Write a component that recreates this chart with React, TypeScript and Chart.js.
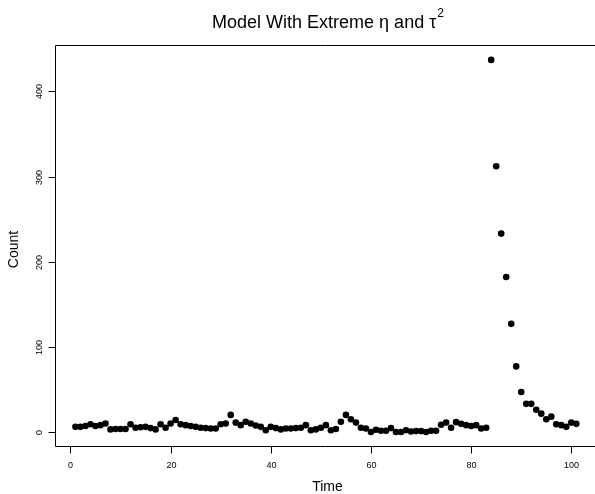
import React, { useEffect, useRef } from "react";
import { Chart, registerables } from "chart.js";

Chart.register(...registerables);

const counts = [
  6, 6, 7, 9, 7, 8, 10, 3, 3.5, 3.5,
  3.5, 9, 5, 5.5, 6, 4.5, 3, 9, 5, 10,
  14, 9, 8, 7, 6, 5, 4.5, 4, 4, 9,
  10, 20, 11, 8, 12, 10, 7.5, 6, 2, 6,
  4.5, 3, 4, 4, 4.5, 5, 8, 2, 3, 5,
  8, 2, 3.5, 12, 20, 15, 11, 5, 4, 0,
  2.5, 1.5, 1.5, 4.5, 0, 0, 2, 0.5, 1, 1,
  0, 1.5, 1.5, 8.5, 11, 5, 11.5, 9.5, 8, 7,
  8, 4, 5, 437, 312, 233, 182, 127, 77, 47,
  33, 33, 26, 21.5, 15, 18, 9, 8, 6, 11,
  9.5,
];
const startTime = 1;
const times = counts.map((_, i) => startTime + i);
const xTicks = [0, 20, 40, 60, 80, 100];
const yTicks = [0, 100, 200, 300, 400];
const titleMain = "Model With Extreme \u03b7 and \u03c4";
const titleSup = "2";
const xLabel = "Time";
const yLabel = "Count";

const FONT = '"Liberation Sans", Arial, Helvetica, sans-serif';

const rStyle = {
  id: "rStyle",
  afterDraw(chart: any) {
    const { ctx, chartArea: a, scales } = chart;
    const xs = scales.x;
    const ys = scales.y;
    ctx.save();
    ctx.strokeStyle = "#000";
    ctx.fillStyle = "#000";
    ctx.lineWidth = 1;
    const L = Math.round(a.left) + 0.5;
    const T = Math.round(a.top) + 0.5;
    const B = Math.round(a.bottom) + 0.5;
    const R = a.right + 20;
    ctx.beginPath();
    ctx.moveTo(R, T);
    ctx.lineTo(L, T);
    ctx.lineTo(L, B);
    ctx.lineTo(R, B);
    ctx.stroke();

    // x axis
    ctx.font = `9px ${FONT}`;
    ctx.textAlign = "center";
    ctx.textBaseline = "middle";
    xTicks.forEach((v) => {
      const px = Math.round(xs.getPixelForValue(v)) + 0.5;
      ctx.beginPath();
      ctx.moveTo(px, B);
      ctx.lineTo(px, B + 7);
      ctx.stroke();
      ctx.fillText(String(v), px, B + 19);
    });

    // y axis
    yTicks.forEach((v) => {
      const py = Math.round(ys.getPixelForValue(v)) + 0.5;
      ctx.beginPath();
      ctx.moveTo(L - 7, py);
      ctx.lineTo(L, py);
      ctx.stroke();
      ctx.save();
      ctx.translate(L - 16, py);
      ctx.rotate(-Math.PI / 2);
      ctx.fillText(String(v), 0, 0);
      ctx.restore();
    });

    const cx = (a.left + 600) / 2;
    // axis titles
    ctx.font = `14px ${FONT}`;
    ctx.fillText(xLabel, cx, 487);
    ctx.save();
    ctx.translate(14, (a.top + a.bottom) / 2 + 4);
    ctx.rotate(-Math.PI / 2);
    ctx.fillText(yLabel, 0, 0);
    ctx.restore();

    // main title with superscript
    ctx.font = `18px ${FONT}`;
    const wMain = ctx.measureText(titleMain).width;
    ctx.font = `12px ${FONT}`;
    const wSup = ctx.measureText(titleSup).width;
    const start = cx - (wMain + wSup) / 2;
    ctx.textAlign = "left";
    ctx.font = `18px ${FONT}`;
    ctx.fillText(titleMain, start, 23);
    ctx.font = `12px ${FONT}`;
    ctx.fillText(titleSup, start + wMain + 1, 14);
    ctx.restore();
  },
};

export default function App() {
  const ref = useRef<HTMLCanvasElement | null>(null);
  useEffect(() => {
    if (!ref.current) return;
    const chart = new Chart(ref.current, {
      type: "scatter",
      data: {
        datasets: [
          {
            data: times.map((t, i) => ({ x: t, y: counts[i] })),
            backgroundColor: "#000",
            borderColor: "#000",
            pointRadius: 3.3,
            pointHoverRadius: 3.3,
            borderWidth: 0,
          },
        ],
      },
      options: {
        animation: false,
        responsive: false,
        devicePixelRatio: 1,
        events: [],
        layout: { padding: { left: 55, right: 0, top: 45, bottom: 48 } },
        scales: {
          x: { type: "linear", min: -3.08, max: 104.07, display: false },
          y: { type: "linear", min: -16.5, max: 454.5, display: false },
        },
        plugins: {
          legend: { display: false },
          tooltip: { enabled: false },
          title: { display: false },
        },
      },
      plugins: [rStyle],
    });
    return () => chart.destroy();
  }, []);
  return (
    <div style={{ position: "absolute", left: 0, top: 0, width: 595, height: 494, background: "#fff" }}>
      <canvas ref={ref} width={595} height={494} style={{ width: 595, height: 494, display: "block" }} />
    </div>
  );
}
